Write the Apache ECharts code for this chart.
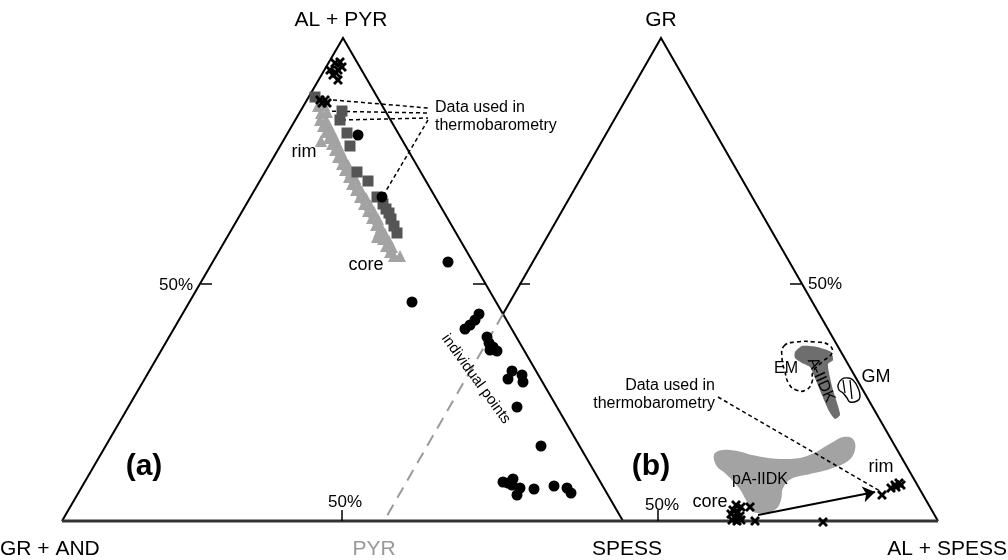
<!DOCTYPE html>
<html><head><meta charset="utf-8">
<script src="https://cdn.jsdelivr.net/npm/echarts@6/dist/echarts.min.js"></script>
<style>html,body{margin:0;padding:0;background:#fff}#c{width:1008px;height:560px}</style>
</head><body><div id="c"></div>
<script>
// ---- diagram geometry (diagram units = picture pixels, y downwards) ----
const sideA = [[62,521],[343,38],[623,521]];
const sideB = [[503,314],[661,38],[938,521]];
const baseLine = [[62,521],[938,521]];
const hiddenEdgeB = [[503,314],[384,521]];
const tickMarks = [
  [[201,284],[212,284]], [[485,284],[473,284]],
  [[519,284],[530,284]], [[801,284],[790,284]],
  [[342,521],[342,510]], [[658,521],[658,510]]
];
const leaderA = [
  [[333,100],[428,108]],
  [[318,111],[428,113]],
  [[342,120],[428,118]],
  [[428,120],[383,196]]
];
const leaderB = [[718,397],[880,491]];
const arrowB = [[758,515],[875,492]];

// ---- measured compositions (panel a) ----
const crossesA = [[335,63],[340,62],[330,70],[338,70],[342,67],[333,75],[338,80],[336,73],
                  [320,100],[325,100],[322,103],[327,103]];
const squaresA = [[315,97],[342,111],[340,120],[347,133],[350,146],[357,172],[368,181],[377,197],
                  [383,204],[386,209],[389,213],[391,219],[394,226],[397,233]];
const trianglesA = [[318,106],[324,105],[321,113],[327,112],[320,120],[326,120],[323,126],[329,126],
  [326,132],[332,132],[329,138],[335,138],[321,141],[332,144],[338,145],[335,150],[341,152],[338,157],
  [344,158],[342,164],[348,165],[345,170],[351,172],[349,177],[355,178],[352,184],[358,185],[356,190],
  [362,192],[360,197],[366,198],[364,204],[370,205],[368,211],[374,212],[372,218],[378,219],[376,225],
  [381,227],[379,232],[385,234],[383,239],[377,237],[389,241],[386,246],[392,247],[390,252],[394,256],[400,256]];
const circlesA = [[358,135],[382,197],[448,262],[412,302],[465,329],[470,325],[475,320],[479,314],
  [487,337],[489,343],[490,350],[497,351],[493,347],[512,371],[508,379],[522,375],[523,382],[517,407],
  [541,446],[503,482],[508,483],[513,479],[512,485],[520,488],[517,495],[534,489],[554,486],[567,488],[571,493]];

// ---- panel b ----
const crossesB = [[736,505],[741,507],[733,510],[738,512],[731,514],[735,517],[740,516],[732,520],
  [737,521],[741,520],[750,507],[755,521],[823,522],
  [882,495],[891,488],[895,485],[899,483],[896,487],[901,485]];
const fieldAIIDK = [[795,352],[802,346],[817,347],[831,352],[833,360],[828,364],[829,373],[833,390],
  [838,406],[840,415],[835,419],[829,411],[821,393],[815,378],[810,367],[802,363],[795,358]];
const fieldPAIIDK = [[715,453],[730,450],[757,456],[783,459],[807,456],[833,442],[843,437],[853,439],
  [855,450],[848,461],[830,469],[810,474],[791,479],[783,488],[781,500],[776,509],[763,513],[752,511],
  [746,500],[739,488],[726,474],[716,465]];
const fieldEM = [[784,346],[796,342],[815,342],[829,345],[832,353],[822,362],[813,372],[812,382],
  [806,390],[796,390],[789,384],[785,372],[782,358]];
const fieldGM = [[838,385],[842,379],[848,378],[853,380],[858,388],[860,397],[857,401],[850,402],
  [847,398],[843,393],[839,390]];
const fieldGMInner = [[[843,380],[845,393]], [[850,380],[852,399]]];

const cornerNames = ['AL + PYR','GR','GR + AND','PYR','SPESS','AL + SPESS'];
const pctLabel = '50%';

const FONT = 'Liberation Sans, Arial, Helvetica, sans-serif';
const chart = echarts.init(document.getElementById('c'), null, {renderer:'canvas'});

function poly(points, style, smooth, z) {
  return {
    type:'custom', coordinateSystem:'cartesian2d', data:[0], z:z||1, silent:true,
    renderItem:function(params, api){
      return {type:'polygon', shape:{points:points.map(p=>api.coord(p)), smooth:smooth||0}, style:style};
    }
  };
}
function segs(list, style, z) {
  return {type:'lines', coordinateSystem:'cartesian2d', polyline:true, z:z||3, silent:true,
    lineStyle:Object.assign({opacity:1, curveness:0}, style), data:list.map(c=>({coords:c}))};
}
function txt(s, x, y, o) {
  o = o||{};
  return {value:[x,y], label:Object.assign({show:true, formatter:s, position:[0,0],
    align:'center', verticalAlign:'middle', fontFamily:FONT, fontSize:18, color:'#000'}, o)};
}
const crossPath = 'path://M0,2 L2,0 L5,3 L8,0 L10,2 L7,5 L10,8 L8,10 L5,7 L2,10 L0,8 L3,5 Z';
const pointStyle = c => ({color:c, opacity:1});

const option = {
  animation:false,
  backgroundColor:'#fff',
  grid:{left:0,right:0,top:0,bottom:0},
  xAxis:{type:'value',min:0,max:1008,show:false},
  yAxis:{type:'value',min:0,max:560,inverse:true,show:false},
  series:[
    poly(fieldPAIIDK,{fill:'#a3a3a3'},0.4,1),
    poly(fieldAIIDK,{fill:'#6e6e6e'},0.2,1),
    poly(fieldEM,{fill:'none',stroke:'#000',lineWidth:1.6,lineDash:[4,3]},0.5,2),
    poly(fieldGM,{fill:'#fff',stroke:'#000',lineWidth:1.4},0.5,5),
    segs(fieldGMInner,{color:'#000',width:1.3},6),
    segs([sideA, sideB],{color:'#000',width:2}),
    segs([baseLine],{color:'#333',width:3}),
    segs([hiddenEdgeB],{color:'#9a9a9a',width:2,type:[12,8]}),
    segs(tickMarks,{color:'#000',width:1.5}),
    segs(leaderA.concat([leaderB]),{color:'#000',width:1.5,type:[4,3]}),
    {type:'lines',coordinateSystem:'cartesian2d',z:7,silent:true,symbol:['none','arrow'],symbolSize:[0,12],
      lineStyle:{color:'#000',width:1.8,opacity:1,curveness:0},data:[{coords:arrowB}]},
    {type:'scatter',data:trianglesA,symbol:'triangle',symbolSize:12,itemStyle:pointStyle('#a3a3a3'),z:4,silent:true},
    {type:'scatter',data:squaresA,symbol:'rect',symbolSize:11,itemStyle:pointStyle('#555'),z:5,silent:true},
    {type:'scatter',data:circlesA,symbol:'circle',symbolSize:11,itemStyle:pointStyle('#000'),z:6,silent:true},
    {type:'scatter',data:crossesA.concat(crossesB),symbol:crossPath,symbolSize:10,itemStyle:pointStyle('#000'),z:8,silent:true},
    {type:'scatter',symbolSize:0,z:10,silent:true,itemStyle:{opacity:1},data:[
      txt(cornerNames[0],341,20,{fontSize:21}),
      txt(cornerNames[1],661,20,{fontSize:21}),
      txt(cornerNames[2],0,549,{fontSize:21,align:'left'}),
      txt(cornerNames[3],374,549,{fontSize:21,color:'#999'}),
      txt(cornerNames[4],627,549,{fontSize:21}),
      txt(cornerNames[5],1007,549,{fontSize:21,align:'right'}),
      txt(pctLabel,193,285,{fontSize:17,align:'right'}),
      txt(pctLabel,808,284,{fontSize:17,align:'left'}),
      txt(pctLabel,345,502,{fontSize:17}),
      txt(pctLabel,662,505,{fontSize:17}),
      txt('(a)',144,467,{fontSize:30,fontWeight:'bold'}),
      txt('(b)',651,467,{fontSize:30,fontWeight:'bold'}),
      txt('rim',304,152,{fontSize:18}),
      txt('core',366,265,{fontSize:18}),
      txt('Data used in\nthermobarometry',435,117,{fontSize:16,align:'left',lineHeight:18}),
      txt('individual points',476,379,{fontSize:15,rotate:-54}),
      txt('Data used in\nthermobarometry',715,395,{fontSize:16,align:'right',lineHeight:18}),
      txt('EM',786,369,{fontSize:16}),
      txt('GM',876,377,{fontSize:18}),
      txt('A-IIDK',821,380,{fontSize:16,rotate:-66}),
      txt('pA-IIDK',760,480,{fontSize:16}),
      txt('rim',881,467,{fontSize:18}),
      txt('core',710,502,{fontSize:18})
    ]}
  ]
};
chart.setOption(option);
</script></body></html>
